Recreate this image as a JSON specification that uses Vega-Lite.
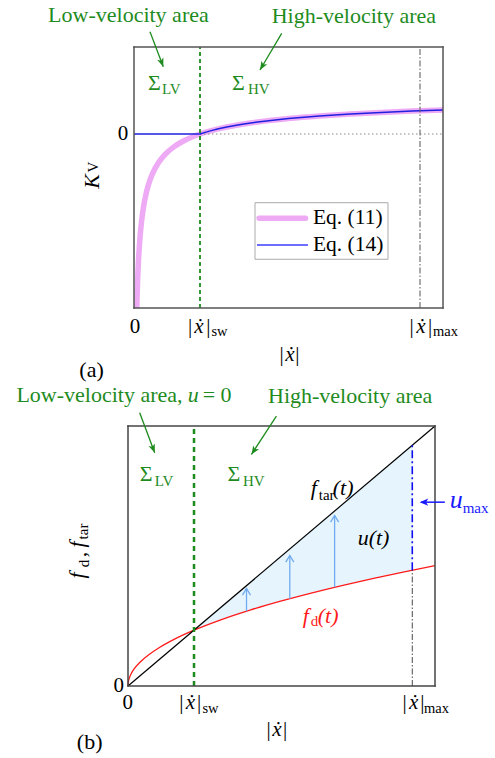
{
  "$schema": "https://vega.github.io/schema/vega-lite/v6.json",
  "autosize": "none",
  "padding": {"left": 128, "top": 47, "right": 367, "bottom": 711},
  "background": "white",
  "bounds": "flush",
  "spacing": 118,
  "config": {"view": {"stroke": null}, "text": {"font": "Liberation Serif"}},
  "vconcat": [
    {
      "width": 315,
      "height": 261,
      "encoding": {
        "x": {"field": "x", "type": "quantitative", "scale": {"domain": [-0.01942, 1], "nice": false, "zero": false}, "axis": null},
        "y": {"field": "y", "type": "quantitative", "scale": {"domain": [-2, 1], "nice": false, "zero": false}, "axis": null}
      },
      "layer": [
        {
          "data": {"values": [
            {"x": 0.0089, "y": -2.0}, {"x": 0.010, "y": -1.858}, {"x": 0.012, "y": -1.651}, {"x": 0.015, "y": -1.423},
            {"x": 0.02, "y": -1.164}, {"x": 0.025, "y": -0.987}, {"x": 0.03, "y": -0.856}, {"x": 0.04, "y": -0.672},
            {"x": 0.05, "y": -0.547}, {"x": 0.06, "y": -0.455}, {"x": 0.08, "y": -0.325}, {"x": 0.10, "y": -0.237},
            {"x": 0.13, "y": -0.145}, {"x": 0.16, "y": -0.080}, {"x": 0.2136, "y": 0}, {"x": 0.25, "y": 0.0388},
            {"x": 0.30, "y": 0.0801}, {"x": 0.35, "y": 0.1122}, {"x": 0.40, "y": 0.1381}, {"x": 0.50, "y": 0.1777},
            {"x": 0.60, "y": 0.2069}, {"x": 0.70, "y": 0.2296}, {"x": 0.80, "y": 0.2479}, {"x": 0.90, "y": 0.2631},
            {"x": 1.0, "y": 0.2759}
          ]},
          "mark": {"type": "line", "color": "#eeaaf5", "strokeWidth": 5.5, "interpolate": "monotone"}
        },
        {
          "data": {"values": [{"x": 0.2136, "x2": 1, "y": 0}]},
          "mark": {"type": "rule", "color": "#888888", "strokeWidth": 1, "strokeDash": [1.5, 2.5]},
          "encoding": {"x2": {"field": "x2"}}
        },
        {
          "data": {"values": [
            {"x": 0, "y": 0}, {"x": 0.2136, "y": 0}, {"x": 0.23, "y": 0.0186}, {"x": 0.25, "y": 0.0388},
            {"x": 0.27, "y": 0.0567}, {"x": 0.30, "y": 0.0801}, {"x": 0.35, "y": 0.1122}, {"x": 0.40, "y": 0.1381},
            {"x": 0.50, "y": 0.1777}, {"x": 0.60, "y": 0.2069}, {"x": 0.70, "y": 0.2296}, {"x": 0.80, "y": 0.2479},
            {"x": 0.90, "y": 0.2631}, {"x": 1.0, "y": 0.2759}
          ]},
          "mark": {"type": "line", "color": "#2020e0", "strokeWidth": 1.5}
        },
        {
          "data": {"values": [{"x": 0.2136, "y": -2, "y2": 1}]},
          "mark": {"type": "rule", "color": "#1e8b1e", "strokeWidth": 1.8, "strokeDash": [4, 3]},
          "encoding": {"y2": {"field": "y2"}}
        },
        {
          "data": {"values": [{"x": 0.9256, "y": -2, "y2": 1}]},
          "mark": {"type": "rule", "color": "#666666", "strokeWidth": 1.1, "strokeDash": [6, 2, 1.5, 2]},
          "encoding": {"y2": {"field": "y2"}}
        },
        {
          "data": {"values": [
            {"x": 0, "x2": 0, "y": -2, "y2": 1}, {"x": 1, "x2": 1, "y": -2, "y2": 1},
            {"x": 0, "x2": 1, "y": -2, "y2": -2}, {"x": 0, "x2": 1, "y": 1, "y2": 1}
          ]},
          "mark": {"type": "rule", "color": "#555555", "strokeWidth": 1.5, "strokeCap": "square"},
          "encoding": {"x2": {"field": "x2"}, "y2": {"field": "y2"}}
        },
        {
          "data": {"values": [{"x": 0.3916, "x2": 0.822, "y": -0.79, "y2": -1.44}]},
          "mark": {"type": "rect", "fill": "white", "stroke": "#aaaaaa", "strokeWidth": 1},
          "encoding": {"x2": {"field": "x2"}, "y2": {"field": "y2"}}
        },
        {
          "data": {"values": [{"x": 0.405, "x2": 0.555, "y": -0.969}]},
          "mark": {"type": "rule", "color": "#eeaaf5", "strokeWidth": 5.5, "strokeCap": "round"},
          "encoding": {"x2": {"field": "x2"}}
        },
        {
          "data": {"values": [{"x": 0.398, "x2": 0.563, "y": -1.276}]},
          "mark": {"type": "rule", "color": "#3c3cff", "strokeWidth": 1.5},
          "encoding": {"x2": {"field": "x2"}}
        },
        {
          "data": {"values": [{"x": 0.579, "y": -0.969, "t": "Eq. (11)"}, {"x": 0.579, "y": -1.276, "t": "Eq. (14)"}]},
          "mark": {"type": "text", "fontSize": 21.5, "color": "black", "align": "left", "baseline": "middle"},
          "encoding": {"text": {"field": "t"}}
        },
        {
          "data": {"values": [{"x": -0.278, "y": 1.291, "t": "Low-velocity area"}, {"x": 0.4456, "y": 1.272, "t": "High-velocity area"}]},
          "mark": {"type": "text", "fontSize": 22, "color": "#1e8b1e", "align": "left", "baseline": "alphabetic"},
          "encoding": {"text": {"field": "t"}}
        },
        {
          "data": {"values": [{"x": 0.0518, "y": 1.176, "x2": 0.0948, "y2": 0.774}, {"x": 0.4780, "y": 1.157, "x2": 0.4078, "y2": 0.736}]},
          "mark": {"type": "rule", "color": "#1e8b1e", "strokeWidth": 1.3},
          "encoding": {"x2": {"field": "x2"}, "y2": {"field": "y2"}}
        },
        {
          "data": {"values": [{"x": 0.0948, "y": 0.774}]},
          "mark": {"type": "point", "shape": "M0,0L-0.55,-1.4L0,-1.05L0.55,-1.4Z", "size": 150, "filled": true, "opacity": 1, "color": "#1e8b1e", "angle": -20.8}
        },
        {
          "data": {"values": [{"x": 0.4078, "y": 0.736}]},
          "mark": {"type": "point", "shape": "M0,0L-0.55,-1.4L0,-1.05L0.55,-1.4Z", "size": 150, "filled": true, "opacity": 1, "color": "#1e8b1e", "angle": 30.6}
        },
        {
          "data": {"values": [{"x": 0.0453, "y": 0.506, "t": "Σ"}, {"x": 0.317, "y": 0.506, "t": "Σ"}]},
          "mark": {"type": "text", "fontSize": 22, "color": "#1e8b1e", "align": "left", "baseline": "alphabetic"},
          "encoding": {"text": {"field": "t"}}
        },
        {
          "data": {"values": [{"x": 0.0906, "y": 0.456, "t": "LV"}, {"x": 0.369, "y": 0.456, "t": "HV"}]},
          "mark": {"type": "text", "fontSize": 15, "color": "#1e8b1e", "align": "left", "baseline": "alphabetic"},
          "encoding": {"text": {"field": "t"}}
        },
        {
          "data": {"values": [
            {"x": 0.0032, "y": -2.284, "t": "0"},
            {"x": 0.1812, "y": -2.284, "t": "|"}, {"x": 0.2405, "y": -2.284, "t": "|"},
            {"x": 0.8987, "y": -2.284, "t": "|"}, {"x": 0.9579, "y": -2.284, "t": "|"},
            {"x": 0.478, "y": -2.609, "t": "|"}, {"x": 0.5285, "y": -2.609, "t": "|"}
          ]},
          "mark": {"type": "text", "fontSize": 21, "color": "black", "align": "center", "baseline": "alphabetic"},
          "encoding": {"text": {"field": "t"}}
        },
        {
          "data": {"values": [{"x": -0.1375, "y": -2.793, "t": "(a)"}]},
          "mark": {"type": "text", "fontSize": 22, "color": "black", "align": "center", "baseline": "alphabetic"},
          "encoding": {"text": {"field": "t"}}
        },
        {
          "data": {"values": [{"x": 0.2104, "y": -2.284, "t": "ẋ"}, {"x": 0.9288, "y": -2.284, "t": "ẋ"}, {"x": 0.5049, "y": -2.609, "t": "ẋ"}]},
          "mark": {"type": "text", "fontSize": 21, "fontStyle": "italic", "color": "black", "align": "center", "baseline": "alphabetic"},
          "encoding": {"text": {"field": "t"}}
        },
        {
          "data": {"values": [{"x": 0.2767, "y": -2.322, "t": "sw"}, {"x": 1.008, "y": -2.322, "t": "max"}]},
          "mark": {"type": "text", "fontSize": 14.5, "color": "black", "align": "center", "baseline": "alphabetic"},
          "encoding": {"text": {"field": "t"}}
        },
        {
          "data": {"values": [{"x": -0.0356, "y": 0, "t": "0"}]},
          "mark": {"type": "text", "fontSize": 21, "color": "black", "align": "center", "baseline": "middle"},
          "encoding": {"text": {"field": "t"}}
        },
        {
          "data": {"values": [{"x": -0.1375, "y": -0.546, "t": "K"}]},
          "mark": {"type": "text", "fontSize": 22, "fontStyle": "italic", "color": "black", "align": "center", "baseline": "middle", "angle": 270},
          "encoding": {"text": {"field": "t"}}
        },
        {
          "data": {"values": [{"x": -0.1327, "y": -0.379, "t": "V"}]},
          "mark": {"type": "text", "fontSize": 15, "color": "black", "align": "center", "baseline": "middle", "angle": 270},
          "encoding": {"text": {"field": "t"}}
        }
      ]
    },
    {
      "width": 307,
      "height": 260,
      "encoding": {
        "x": {"field": "x", "type": "quantitative", "scale": {"domain": [0, 1], "nice": false, "zero": false}, "axis": null},
        "y": {"field": "y", "type": "quantitative", "scale": {"domain": [0, 1], "nice": false, "zero": false}, "axis": null}
      },
      "layer": [
        {
          "data": {"values": [
            {"x": 0.215, "y": 0.215, "y2": 0.2147}, {"x": 0.25, "y": 0.25, "y2": 0.2315}, {"x": 0.3, "y": 0.3, "y2": 0.2536},
            {"x": 0.35, "y": 0.35, "y2": 0.2739}, {"x": 0.4, "y": 0.4, "y2": 0.2928}, {"x": 0.5, "y": 0.5, "y2": 0.3274},
            {"x": 0.6, "y": 0.6, "y2": 0.3586}, {"x": 0.7, "y": 0.7, "y2": 0.3874}, {"x": 0.8, "y": 0.8, "y2": 0.4141},
            {"x": 0.9, "y": 0.9, "y2": 0.4392}, {"x": 0.926, "y": 0.926, "y2": 0.4455}
          ]},
          "mark": {"type": "area", "color": "#e6f5fd", "opacity": 1},
          "encoding": {"y2": {"field": "y2"}}
        },
        {
          "data": {"values": [
            {"x": 0, "y": 0}, {"x": 0.001, "y": 0.0146}, {"x": 0.004, "y": 0.0293}, {"x": 0.01, "y": 0.0463},
            {"x": 0.02, "y": 0.0655}, {"x": 0.04, "y": 0.0926}, {"x": 0.07, "y": 0.1225}, {"x": 0.1, "y": 0.1464},
            {"x": 0.15, "y": 0.1793}, {"x": 0.215, "y": 0.2147}, {"x": 0.3, "y": 0.2536}, {"x": 0.4, "y": 0.2928},
            {"x": 0.5, "y": 0.3274}, {"x": 0.6, "y": 0.3586}, {"x": 0.7, "y": 0.3874}, {"x": 0.8, "y": 0.4141},
            {"x": 0.9, "y": 0.4392}, {"x": 1.0, "y": 0.463}
          ]},
          "mark": {"type": "line", "color": "#ff1a1a", "strokeWidth": 1.3, "interpolate": "monotone"}
        },
        {
          "data": {"values": [{"x": 0, "y": 0}, {"x": 1, "y": 1}]},
          "mark": {"type": "line", "color": "black", "strokeWidth": 1.2}
        },
        {
          "data": {"values": [{"x": 0.215, "y": 0, "y2": 1}]},
          "mark": {"type": "rule", "color": "#1e8b1e", "strokeWidth": 2.5, "strokeDash": [5, 4]},
          "encoding": {"y2": {"field": "y2"}}
        },
        {
          "data": {"values": [{"x": 0.926, "y": 0, "y2": 0.4455}]},
          "mark": {"type": "rule", "color": "#333333", "strokeWidth": 0.9, "strokeDash": [6, 2, 1.5, 2]},
          "encoding": {"y2": {"field": "y2"}}
        },
        {
          "data": {"values": [{"x": 0.926, "y": 0.4455, "y2": 0.926}]},
          "mark": {"type": "rule", "color": "#1010ee", "strokeWidth": 1.6, "strokeDash": [8, 3, 2, 3]},
          "encoding": {"y2": {"field": "y2"}}
        },
        {
          "data": {"values": [{"x": 0.386, "y": 0.2877, "y2": 0.375}, {"x": 0.527, "y": 0.336, "y2": 0.502}, {"x": 0.673, "y": 0.380, "y2": 0.656}]},
          "mark": {"type": "rule", "color": "#70aaf0", "strokeWidth": 1.3},
          "encoding": {"y2": {"field": "y2"}}
        },
        {
          "data": {"values": [{"x": 0.386, "y": 0.375}, {"x": 0.527, "y": 0.502}, {"x": 0.673, "y": 0.656}]},
          "mark": {"type": "point", "shape": "M-0.9,1.5L0,0L0.9,1.5", "size": 80, "filled": false, "opacity": 1, "color": "#70aaf0", "strokeWidth": 1.3}
        },
        {
          "data": {"values": [
            {"x": 0, "x2": 0, "y": 0, "y2": 1}, {"x": 1, "x2": 1, "y": 0, "y2": 1},
            {"x": 0, "x2": 1, "y": 0, "y2": 0}, {"x": 0, "x2": 1, "y": 1, "y2": 1}
          ]},
          "mark": {"type": "rule", "color": "#444444", "strokeWidth": 1.5, "strokeCap": "square"},
          "encoding": {"x2": {"field": "x2"}, "y2": {"field": "y2"}}
        },
        {
          "data": {"values": [{"x": 0.955, "x2": 1.032, "y": 0.707}]},
          "mark": {"type": "rule", "color": "#1a1aff", "strokeWidth": 1.5},
          "encoding": {"x2": {"field": "x2"}}
        },
        {
          "data": {"values": [{"x": 0.950, "y": 0.707}]},
          "mark": {"type": "point", "shape": "M0,0L1.4,-0.6L1.05,0L1.4,0.6Z", "size": 150, "filled": true, "opacity": 1, "color": "#1a1aff"}
        },
        {
          "data": {"values": [
            {"x": -0.3635, "y": 1.0915, "t": "Low-velocity area,"},
            {"x": 0.2433, "y": 1.0915, "t": "= 0"},
            {"x": 0.456, "y": 1.089, "t": "High-velocity area"}
          ]},
          "mark": {"type": "text", "fontSize": 22, "color": "#1e8b1e", "align": "left", "baseline": "alphabetic"},
          "encoding": {"text": {"field": "t"}}
        },
        {
          "data": {"values": [{"x": 0.1945, "y": 1.0915, "t": "u"}]},
          "mark": {"type": "text", "fontSize": 22, "fontStyle": "italic", "color": "#1e8b1e", "align": "left", "baseline": "alphabetic"},
          "encoding": {"text": {"field": "t"}}
        },
        {
          "data": {"values": [{"x": 0.0381, "y": 1.0508, "x2": 0.0870, "y2": 0.8969}, {"x": 0.4834, "y": 1.0377, "x2": 0.4020, "y2": 0.8904}]},
          "mark": {"type": "rule", "color": "#1e8b1e", "strokeWidth": 1.3},
          "encoding": {"x2": {"field": "x2"}, "y2": {"field": "y2"}}
        },
        {
          "data": {"values": [{"x": 0.0870, "y": 0.8969}]},
          "mark": {"type": "point", "shape": "M0,0L-0.55,-1.4L0,-1.05L0.55,-1.4Z", "size": 150, "filled": true, "opacity": 1, "color": "#1e8b1e", "angle": -20.6}
        },
        {
          "data": {"values": [{"x": 0.4020, "y": 0.8904}]},
          "mark": {"type": "point", "shape": "M0,0L-0.55,-1.4L0,-1.05L0.55,-1.4Z", "size": 150, "filled": true, "opacity": 1, "color": "#1e8b1e", "angle": 33.1}
        },
        {
          "data": {"values": [{"x": 0.0381, "y": 0.7877, "t": "Σ"}, {"x": 0.3238, "y": 0.7877, "t": "Σ"}]},
          "mark": {"type": "text", "fontSize": 22, "color": "#1e8b1e", "align": "left", "baseline": "alphabetic"},
          "encoding": {"text": {"field": "t"}}
        },
        {
          "data": {"values": [{"x": 0.087, "y": 0.771, "t": "LV"}, {"x": 0.3746, "y": 0.771, "t": "HV"}]},
          "mark": {"type": "text", "fontSize": 15, "color": "#1e8b1e", "align": "left", "baseline": "alphabetic"},
          "encoding": {"text": {"field": "t"}}
        },
        {
          "data": {"values": [
            {"x": 0.5951, "y": 0.7365, "t": "f"},
            {"x": 0.6668, "y": 0.7365, "t": "(t)"},
            {"x": 0.748, "y": 0.544, "t": "u(t)"}
          ]},
          "mark": {"type": "text", "fontSize": 22, "fontStyle": "italic", "color": "black", "align": "left", "baseline": "alphabetic"},
          "encoding": {"text": {"field": "t"}}
        },
        {
          "data": {"values": [{"x": 0.6212, "y": 0.717, "t": "tar"}]},
          "mark": {"type": "text", "fontSize": 15, "color": "black", "align": "left", "baseline": "alphabetic"},
          "encoding": {"text": {"field": "t"}}
        },
        {
          "data": {"values": [{"x": 0.569, "y": 0.243, "t": "f"}, {"x": 0.618, "y": 0.243, "t": "(t)"}]},
          "mark": {"type": "text", "fontSize": 22, "fontStyle": "italic", "color": "#ff1a1a", "align": "left", "baseline": "alphabetic"},
          "encoding": {"text": {"field": "t"}}
        },
        {
          "data": {"values": [{"x": 0.595, "y": 0.229, "t": "d"}]},
          "mark": {"type": "text", "fontSize": 15, "color": "#ff1a1a", "align": "left", "baseline": "alphabetic"},
          "encoding": {"text": {"field": "t"}}
        },
        {
          "data": {"values": [{"x": 1.048, "y": 0.6865, "t": "u"}]},
          "mark": {"type": "text", "fontSize": 26, "fontStyle": "italic", "color": "#1a1aff", "align": "left", "baseline": "alphabetic"},
          "encoding": {"text": {"field": "t"}}
        },
        {
          "data": {"values": [{"x": 1.09, "y": 0.666, "t": "max"}]},
          "mark": {"type": "text", "fontSize": 15, "color": "#1a1aff", "align": "left", "baseline": "alphabetic"},
          "encoding": {"text": {"field": "t"}}
        },
        {
          "data": {"values": [
            {"x": -0.001, "y": -0.0877, "t": "0"},
            {"x": 0.174, "y": -0.0877, "t": "|"}, {"x": 0.2313, "y": -0.0877, "t": "|"},
            {"x": 0.9013, "y": -0.0877, "t": "|"}, {"x": 0.959, "y": -0.0877, "t": "|"},
            {"x": 0.4583, "y": -0.193, "t": "|"}, {"x": 0.5114, "y": -0.193, "t": "|"}
          ]},
          "mark": {"type": "text", "fontSize": 21, "color": "black", "align": "center", "baseline": "alphabetic"},
          "encoding": {"text": {"field": "t"}}
        },
        {
          "data": {"values": [{"x": -0.1248, "y": -0.244, "t": "(b)"}]},
          "mark": {"type": "text", "fontSize": 22, "color": "black", "align": "center", "baseline": "alphabetic"},
          "encoding": {"text": {"field": "t"}}
        },
        {
          "data": {"values": [{"x": 0.2036, "y": -0.0877, "t": "ẋ"}, {"x": 0.9306, "y": -0.0877, "t": "ẋ"}, {"x": 0.485, "y": -0.193, "t": "ẋ"}]},
          "mark": {"type": "text", "fontSize": 21, "fontStyle": "italic", "color": "black", "align": "center", "baseline": "alphabetic"},
          "encoding": {"text": {"field": "t"}}
        },
        {
          "data": {"values": [{"x": 0.2687, "y": -0.103, "t": "sw"}, {"x": 1.0046, "y": -0.103, "t": "max"}]},
          "mark": {"type": "text", "fontSize": 14.5, "color": "black", "align": "center", "baseline": "alphabetic"},
          "encoding": {"text": {"field": "t"}}
        },
        {
          "data": {"values": [{"x": -0.0303, "y": 0, "t": "0"}]},
          "mark": {"type": "text", "fontSize": 21, "color": "black", "align": "center", "baseline": "middle"},
          "encoding": {"text": {"field": "t"}}
        },
        {
          "data": {"values": [{"x": -0.1671, "y": 0.425, "t": "f"}, {"x": -0.1671, "y": 0.5442, "t": "f"}]},
          "mark": {"type": "text", "fontSize": 22, "fontStyle": "italic", "color": "black", "align": "center", "baseline": "middle", "angle": 270},
          "encoding": {"text": {"field": "t"}}
        },
        {
          "data": {"values": [{"x": -0.1443, "y": 0.471, "t": "d"}, {"x": -0.1476, "y": 0.5942, "t": "tar"}]},
          "mark": {"type": "text", "fontSize": 15, "color": "black", "align": "center", "baseline": "middle", "angle": 270},
          "encoding": {"text": {"field": "t"}}
        },
        {
          "data": {"values": [{"x": -0.1606, "y": 0.5058, "t": ","}]},
          "mark": {"type": "text", "fontSize": 22, "color": "black", "align": "center", "baseline": "middle", "angle": 270},
          "encoding": {"text": {"field": "t"}}
        }
      ]
    }
  ]
}
